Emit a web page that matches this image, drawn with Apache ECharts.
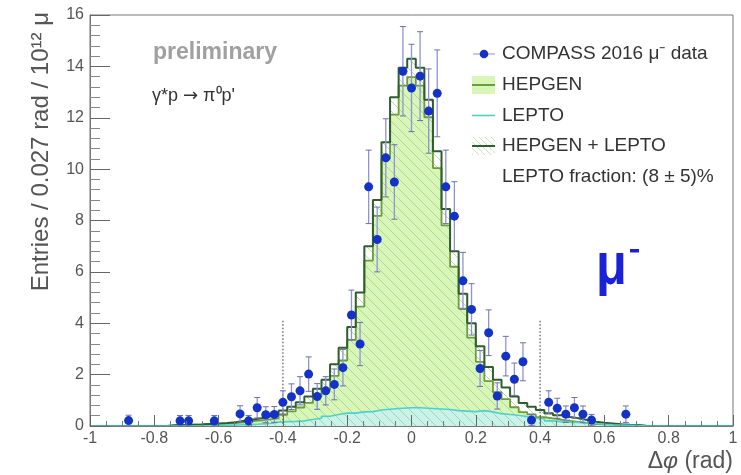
<!DOCTYPE html>
<html>
<head>
<meta charset="utf-8">
<script src="https://cdn.jsdelivr.net/npm/echarts@6/dist/echarts.min.js"></script>
<style>
  html, body { margin: 0; padding: 0; background: #fff; }
  #chart { width: 741px; height: 475px; }
</style>
</head>
<body>
<div id="chart"></div>
<script>
// Histogram binning: 75 bins of 0.027 rad over [-1, 1]
const PHI_MIN = -1;
const PHI_MAX = 1;
const BIN_WIDTH = 2 / 75;

// Monte Carlo histograms (entries per bin, 10^12 mu normalisation)
const hepgenPlusLepto = [
  0, 0, 0, 0, 0, 0, 0, 0, 0,
  0.03, 0.04, 0.05, 0.06, 0.08, 0.10, 0.12, 0.15, 0.20, 0.25, 0.30, 0.36,
  0.45, 0.60, 0.75, 0.92, 1.15, 1.45, 1.80, 2.40, 3.05, 3.85, 5.20, 7.00, 8.80,
  11.05, 12.80, 13.95, 14.30, 13.95, 12.70, 10.70, 8.45, 6.80, 5.15, 4.00, 3.10, 2.30,
  1.80, 1.50, 1.15, 0.90, 0.75, 0.62, 0.50, 0.42, 0.35, 0.30, 0.23, 0.17, 0.13, 0.10, 0.07, 0.05, 0.04,
  0, 0, 0, 0, 0, 0, 0, 0, 0, 0, 0
];
const hepgen = [
  0, 0, 0, 0, 0, 0, 0, 0, 0,
  0.03, 0.04, 0.05, 0.06, 0.08, 0.08, 0.09, 0.11, 0.15, 0.19, 0.22, 0.26,
  0.30, 0.43, 0.57, 0.72, 0.90, 1.15, 1.42, 1.95, 2.55, 3.35, 4.65, 6.44, 8.18,
  10.40, 12.12, 13.25, 13.58, 13.25, 12.02, 10.04, 7.81, 6.20, 4.57, 3.44, 2.50, 1.75,
  1.32, 1.05, 0.73, 0.54, 0.45, 0.34, 0.30, 0.25, 0.20, 0.16, 0.11, 0.07, 0.06, 0.05, 0.03, 0.02, 0.02,
  0, 0, 0, 0, 0, 0, 0, 0, 0, 0, 0
];
const lepto = [
  0, 0, 0, 0, 0, 0, 0, 0, 0,
  0, 0, 0, 0, 0, 0.02, 0.03, 0.04, 0.05, 0.06, 0.08, 0.10,
  0.15, 0.17, 0.18, 0.20, 0.25, 0.30, 0.38, 0.45, 0.50, 0.50, 0.55, 0.56, 0.62,
  0.65, 0.68, 0.70, 0.72, 0.70, 0.68, 0.66, 0.64, 0.60, 0.58, 0.56, 0.60, 0.55,
  0.48, 0.45, 0.42, 0.36, 0.30, 0.28, 0.20, 0.17, 0.15, 0.14, 0.12, 0.10, 0.07, 0.05, 0.04, 0.03, 0.02,
  0, 0, 0, 0, 0, 0, 0, 0, 0, 0, 0
];

// COMPASS 2016 mu- data: bin centre, value, statistical error
const dataPhi = [
  -0.88, -0.72, -0.6933, -0.6133, -0.5333, -0.5067, -0.48, -0.4533, -0.4267, -0.4,
  -0.3733, -0.3467, -0.32, -0.2933, -0.2667, -0.24, -0.2133, -0.1867, -0.16, -0.1333,
  -0.1067, -0.08, -0.0533, -0.0267, 0, 0.0267, 0.0533, 0.08, 0.1067, 0.1333,
  0.16, 0.1867, 0.2133, 0.24, 0.2667, 0.2933, 0.32, 0.3467, 0.3733, 0.4267,
  0.4533, 0.48, 0.5067, 0.5333, 0.56, 0.6667
];
const dataValues = [
  0.21, 0.20, 0.20, 0.20, 0.47, 0.20, 0.71, 0.44, 0.45, 0.92,
  1.14, 1.37, 2.02, 1.15, 1.37, 1.62, 2.27, 4.32, 3.19, 9.31,
  7.26, 10.44, 9.50, 13.81, 13.16, 13.62, 12.26, 12.95, 9.31, 8.17,
  5.65, 4.54, 2.24, 3.63, 1.17, 2.72, 1.82, 2.50, 0.23, 0.92,
  0.69, 0.46, 0.71, 0.46, 0.23, 0.46
];
const dataErrors = [
  0.21, 0.21, 0.21, 0.21, 0.32, 0.21, 0.40, 0.31, 0.31, 0.45,
  0.50, 0.55, 0.67, 0.50, 0.55, 0.60, 0.71, 0.97, 0.84, 1.43,
  1.26, 1.52, 1.45, 1.74, 1.70, 1.73, 1.64, 1.69, 1.43, 1.34,
  1.11, 1.00, 0.70, 0.89, 0.51, 0.77, 0.63, 0.74, 0.22, 0.45,
  0.39, 0.32, 0.40, 0.32, 0.22, 0.32
];

// Exclusivity cut markers
const cutPhi = [-0.4, 0.4];
const cutHeight = 4.1;

const FONT = "'Liberation Sans', Arial, Helvetica, sans-serif";

// Step-histogram points: left edge of every bin, closed at the upper limit
function stepPoints(values) {
  const pts = values.map((v, i) => [PHI_MIN + i * BIN_WIDTH, v]);
  pts.push([PHI_MAX, values[values.length - 1]]);
  return pts;
}

// Diagonal hatch tile
function hatchTile(bg, fg, size, width) {
  const c = document.createElement('canvas');
  c.width = size; c.height = size;
  const g = c.getContext('2d');
  if (bg) { g.fillStyle = bg; g.fillRect(0, 0, size, size); }
  g.strokeStyle = fg;
  g.lineWidth = width;
  g.beginPath();
  g.moveTo(-2, -2); g.lineTo(size + 2, size + 2);
  g.moveTo(-2, size - 2); g.lineTo(2, size + 2);
  g.moveTo(size - 2, -2); g.lineTo(size + 2, 2);
  g.stroke();
  return c;
}

const hatchFill = { image: hatchTile(null, 'rgba(150,205,130,0.7)', 10, 1), repeat: 'repeat' };
const legendHatch = { image: hatchTile(null, 'rgba(160,215,140,0.6)', 6, 1), repeat: 'repeat' };

const COL_HEPGEN_FILL = '#d8f6b8';
const COL_HEPGEN_LINE = '#6c9c3c';
const COL_SUM_LINE = '#2e5e2e';
const COL_LEPTO_LINE = '#4fd0cc';
const COL_LEPTO_FILL = '#c9f2ea';
const COL_DATA = '#1432c6';
const COL_ERR = '#8f93d6';
const COL_MU = '#1a22d8';

const chart = echarts.init(document.getElementById('chart'), null, { renderer: 'canvas' });

const option = {
  animation: false,
  backgroundColor: '#fff',
  grid: {
    left: 90, right: 8, top: 15, bottom: 49,
    show: true, borderColor: '#777', borderWidth: 1, backgroundColor: 'transparent',
    containLabel: false, outerBoundsMode: 'none'
  },
  xAxis: {
    type: 'value', min: PHI_MIN, max: PHI_MAX, interval: 0.2, z: 10,
    axisLine: { show: true, onZero: false, lineStyle: { color: '#777', width: 1 } },
    axisTick: { show: true, inside: true, length: 11, lineStyle: { color: '#666', width: 1 } },
    minorTick: { show: true, splitNumber: 4, length: 5, lineStyle: { color: '#777', width: 1 } },
    splitLine: { show: false },
    axisLabel: { color: '#555', fontSize: 16, fontFamily: FONT, margin: 5 }
  },
  yAxis: {
    type: 'value', min: 0, max: 16, interval: 2, z: 10,
    axisLine: { show: true, onZero: false, lineStyle: { color: '#777', width: 1 } },
    axisTick: { show: true, inside: true, length: 20, lineStyle: { color: '#666', width: 1 } },
    minorTick: { show: true, splitNumber: 5, length: 10, lineStyle: { color: '#888', width: 1 } },
    splitLine: { show: false },
    axisLabel: { color: '#555', fontSize: 16, fontFamily: FONT, margin: 6 }
  },
  series: [
    { // HEPGEN filled area
      type: 'line', step: 'end', data: stepPoints(hepgen), symbol: 'none', z: 1,
      lineStyle: { width: 0, opacity: 0 },
      areaStyle: { color: COL_HEPGEN_FILL, opacity: 1 }
    },
    { // LEPTO filled area
      type: 'line', step: 'end', data: stepPoints(lepto), symbol: 'none', z: 2,
      lineStyle: { width: 0, opacity: 0 },
      areaStyle: { color: COL_LEPTO_FILL, opacity: 1 }
    },
    { // HEPGEN + LEPTO hatched area
      type: 'line', step: 'end', data: stepPoints(hepgenPlusLepto), symbol: 'none', z: 3,
      lineStyle: { width: 0, opacity: 0 },
      areaStyle: { color: hatchFill, opacity: 1 }
    },
    { // HEPGEN outline
      type: 'line', step: 'end', data: stepPoints(hepgen), symbol: 'none', z: 4,
      lineStyle: { color: COL_HEPGEN_LINE, width: 1.8 }
    },
    { // HEPGEN + LEPTO outline
      type: 'line', step: 'end', data: stepPoints(hepgenPlusLepto), symbol: 'none', z: 5,
      lineStyle: { color: COL_SUM_LINE, width: 2 }
    },
    { // LEPTO outline
      type: 'line', step: 'end', data: stepPoints(lepto), symbol: 'none', z: 6,
      lineStyle: { color: COL_LEPTO_LINE, width: 1.6 }
    },
    { // cut markers
      type: 'custom', z: 7, silent: true,
      data: cutPhi.map(x => [x, cutHeight]),
      renderItem(params, api) {
        const top = api.coord([api.value(0), api.value(1)]);
        const bot = api.coord([api.value(0), 0]);
        return {
          type: 'line',
          shape: { x1: top[0], y1: top[1], x2: bot[0], y2: bot[1] },
          style: { stroke: '#555', lineWidth: 1.2, lineDash: [1.5, 2] }
        };
      }
    },
    { // data error bars
      type: 'custom', z: 8, silent: true,
      data: dataPhi.map((x, i) => [x, dataValues[i], dataErrors[i]]),
      renderItem(params, api) {
        const x = api.value(0), y = api.value(1), e = api.value(2);
        const top = api.coord([x, y + e]);
        const bot = api.coord([x, Math.max(0, y - e)]);
        const cw = 3;
        return {
          type: 'group',
          children: [
            { type: 'line', shape: { x1: top[0], y1: top[1], x2: bot[0], y2: bot[1] },
              style: { stroke: COL_ERR, lineWidth: 1.3 } },
            { type: 'line', shape: { x1: top[0] - cw, y1: top[1], x2: top[0] + cw, y2: top[1] },
              style: { stroke: '#6d70aa', lineWidth: 1 } },
            { type: 'line', shape: { x1: bot[0] - cw, y1: bot[1], x2: bot[0] + cw, y2: bot[1] },
              style: { stroke: '#6d70aa', lineWidth: 1 } }
          ]
        };
      }
    },
    { // data points
      type: 'scatter', z: 9, symbol: 'circle', symbolSize: 9,
      data: dataPhi.map((x, i) => [x, dataValues[i]]),
      itemStyle: { color: COL_DATA, opacity: 1 }
    }
  ],
  graphic: [
    // axis titles
    { type: 'text', x: 41, y: 12, rotation: Math.PI / 2, z: 20,
      style: { text: 'Entries / 0.027 rad / 10¹² μ', font: '24px ' + FONT, fill: '#555',
               align: 'right', verticalAlign: 'middle' } },
    { type: 'text', x: 733, y: 462, z: 20,
      style: {
        text: '{a|Δ}{b|φ}{a| (rad)}', align: 'right', verticalAlign: 'middle',
        rich: {
          a: { font: '23px ' + FONT, fill: '#555' },
          b: { font: 'italic 23px ' + FONT, fill: '#555' }
        }
      } },
    // annotations
    { type: 'text', x: 153, y: 53, z: 20,
      style: { text: 'preliminary', font: 'bold 23px ' + FONT, fill: '#a0a0a0', verticalAlign: 'middle' } },
    { type: 'text', x: 152, y: 96, z: 20,
      style: {
        text: "{a|γ*p }{b|→}{a| π⁰p'}", verticalAlign: 'middle',
        rich: {
          a: { font: '18px ' + FONT, fill: '#333' },
          b: { font: "18px 'DejaVu Sans', sans-serif", fill: '#333' }
        }
      } },
    { type: 'text', x: 596, y: 267, z: 20, scaleX: 0.84,
      style: { text: 'μ', font: 'bold 60px ' + FONT, fill: COL_MU, verticalAlign: 'middle' } },
    { type: 'rect', z: 20, shape: { x: 630, y: 249, width: 9, height: 3.5 }, style: { fill: COL_MU } },
    // legend: data
    { type: 'line', z: 20, shape: { x1: 473, y1: 54, x2: 495, y2: 54 }, style: { stroke: COL_ERR, lineWidth: 1 } },
    { type: 'circle', z: 21, shape: { cx: 484, cy: 54, r: 4.3 }, style: { fill: COL_DATA } },
    { type: 'text', x: 502, y: 54, z: 20,
      style: { text: 'COMPASS 2016 μ⁻ data', font: '19px ' + FONT, fill: '#333', verticalAlign: 'middle' } },
    // legend: HEPGEN
    { type: 'rect', z: 20, shape: { x: 472, y: 76, width: 23, height: 18 }, style: { fill: COL_HEPGEN_FILL } },
    { type: 'line', z: 21, shape: { x1: 472, y1: 85, x2: 495, y2: 85 }, style: { stroke: COL_HEPGEN_LINE, lineWidth: 2 } },
    { type: 'text', x: 502, y: 85, z: 20,
      style: { text: 'HEPGEN', font: '19px ' + FONT, fill: '#333', verticalAlign: 'middle' } },
    // legend: LEPTO
    { type: 'line', z: 21, shape: { x1: 472, y1: 115.5, x2: 495, y2: 115.5 }, style: { stroke: COL_LEPTO_LINE, lineWidth: 1.6 } },
    { type: 'text', x: 502, y: 115.5, z: 20,
      style: { text: 'LEPTO', font: '19px ' + FONT, fill: '#333', verticalAlign: 'middle' } },
    // legend: HEPGEN + LEPTO
    { type: 'rect', z: 20, shape: { x: 472, y: 137, width: 23, height: 18 }, style: { fill: legendHatch } },
    { type: 'line', z: 21, shape: { x1: 472, y1: 146, x2: 495, y2: 146 }, style: { stroke: COL_SUM_LINE, lineWidth: 2 } },
    { type: 'text', x: 502, y: 146, z: 20,
      style: { text: 'HEPGEN + LEPTO', font: '19px ' + FONT, fill: '#333', verticalAlign: 'middle' } },
    { type: 'text', x: 502, y: 177, z: 20,
      style: { text: 'LEPTO fraction: (8 ± 5)%', font: '19px ' + FONT, fill: '#333', verticalAlign: 'middle' } }
  ]
};

chart.setOption(option);
</script>
</body>
</html>
